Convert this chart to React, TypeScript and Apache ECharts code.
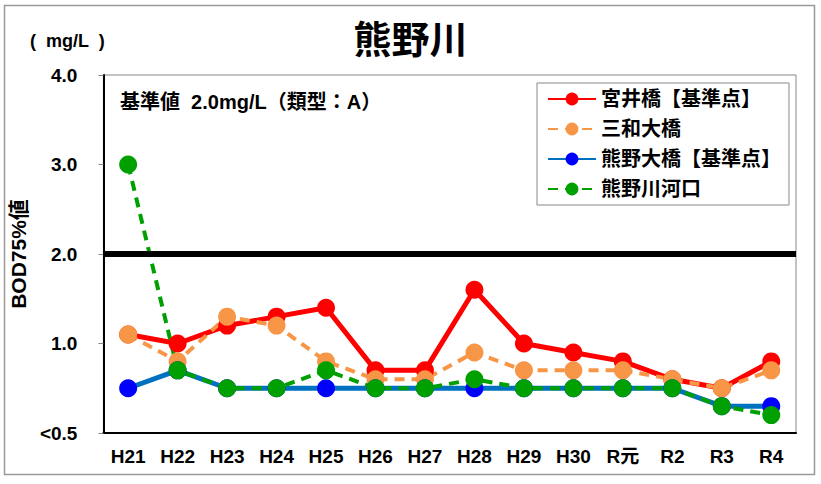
import React, { useEffect, useRef } from "react";
import * as echarts from "echarts";

const categories = ["H21", "H22", "H23", "H24", "H25", "H26", "H27", "H28", "H29", "H30", "R元", "R2", "R3", "R4"];
const miyai = [1.1, 1.0, 1.2, 1.3, 1.4, 0.7, 0.7, 1.6, 1.0, 0.9, 0.8, 0.6, 0.5, 0.8];
const sanwa = [1.1, 0.8, 1.3, 1.2, 0.8, 0.6, 0.6, 0.9, 0.7, 0.7, 0.7, 0.6, 0.5, 0.7];
const kumanoOhashi = [0.5, 0.7, 0.5, 0.5, 0.5, 0.5, 0.5, 0.5, 0.5, 0.5, 0.5, 0.5, 0.3, 0.3];
const kakou = [3.0, 0.7, 0.5, 0.5, 0.7, 0.5, 0.5, 0.6, 0.5, 0.5, 0.5, 0.5, 0.3, 0.2];
const seriesNames = ["宮井橋【基準点】", "三和大橋", "熊野大橋【基準点】", "熊野川河口"];
const standardValue = 2.0;
const yTicks = [0, 1, 2, 3, 4];
const yTickLabels = ["<0.5", "1.0", "2.0", "3.0", "4.0"];

const FONT = "'Liberation Sans', 'Noto Sans CJK JP', sans-serif";

export default function App() {
  const ref = useRef<HTMLDivElement>(null);
  useEffect(() => {
    const chart = echarts.init(ref.current!, null, { renderer: "svg" });
    const mk = (name: string, data: number[], color: string, symColor: string, dashed: boolean, width: number) => ({
      name,
      type: "line",
      data,
      symbol: "circle",
      symbolSize: 18,
      lineStyle: { color, width, type: dashed ? [10, 7] : "solid" },
      itemStyle: { color: symColor, borderWidth: 0 },
      z: 3,
    });
    chart.setOption({
      animation: false,
      backgroundColor: "#fff",
      textStyle: { fontFamily: FONT },
      title: {
        text: "熊野川",
        left: "center",
        top: 16,
        textStyle: { fontSize: 38, fontWeight: "bold", color: "#000", fontFamily: FONT },
      },
      grid: { left: 103, right: 25, top: 75, bottom: 51, show: true, borderColor: "#888", borderWidth: 1 },
      legend: {
        left: 537,
        top: 83,
        orient: "vertical",
        backgroundColor: "#fff",
        borderColor: "#888",
        borderWidth: 1,
        padding: [6, 8, 6, 10],
        itemWidth: 48,
        itemHeight: 16,
        itemGap: 10,
        textStyle: { fontSize: 20, fontWeight: "bold", color: "#000", fontFamily: FONT },
        data: seriesNames,
      },
      xAxis: {
        type: "category",
        data: categories,
        boundaryGap: true,
        axisLine: { lineStyle: { color: "#000", width: 2 } },
        axisTick: { inside: true, length: 6, lineStyle: { color: "#888" } },
        axisLabel: { fontSize: 19, fontWeight: "bold", color: "#000", margin: 14, fontFamily: FONT },
      },
      yAxis: {
        type: "value",
        min: 0,
        max: 4,
        interval: 1,
        name: "BOD75%値",
        nameLocation: "middle",
        nameGap: 67,
        nameRotate: 90,
        nameTextStyle: { fontSize: 21, fontWeight: "bold", color: "#000", fontFamily: FONT },
        axisLine: { show: true, lineStyle: { color: "#000", width: 2 } },
        axisTick: { show: true, length: 5, lineStyle: { color: "#888" } },
        splitLine: { show: false },
        axisLabel: {
          fontSize: 19,
          fontWeight: "bold",
          color: "#000",
          margin: 26,
          fontFamily: FONT,
          formatter: (v: number) => yTickLabels[yTicks.indexOf(v)] ?? "",
        },
      },
      graphic: [
        { type: "rect", shape: { x: 4.5, y: 5.5, width: 810, height: 469 }, style: { fill: "none", stroke: "#999", lineWidth: 1.5 }, z: -1 },
        { type: "text", left: 30, top: 32, style: { text: "(  mg/L  )", fontSize: 18, fontWeight: "bold", fill: "#000", fontFamily: FONT } },
        { type: "text", left: 120, top: 92, style: { text: "基準値  2.0mg/L（類型：A）", fontSize: 20, fontWeight: "bold", fill: "#000", fontFamily: FONT } },
      ],
      series: [
        {
          ...mk(seriesNames[0], miyai, "#FF0000", "#FF0000", false, 5),
          markLine: {
            silent: true,
            symbol: "none",
            label: { show: false },
            lineStyle: { color: "#000", width: 6, type: "solid" },
            data: [{ yAxis: standardValue }],
          },
        },
        mk(seriesNames[1], sanwa, "#F79646", "#F79646", true, 4),
        mk(seriesNames[2], kumanoOhashi, "#0070C0", "#0000FF", false, 5),
        mk(seriesNames[3], kakou, "#00A000", "#00A000", true, 4),
      ],
    });
    return () => chart.dispose();
  }, []);
  return <div ref={ref} style={{ position: "fixed", left: 0, top: 0, width: 821, height: 484 }} />;
}
